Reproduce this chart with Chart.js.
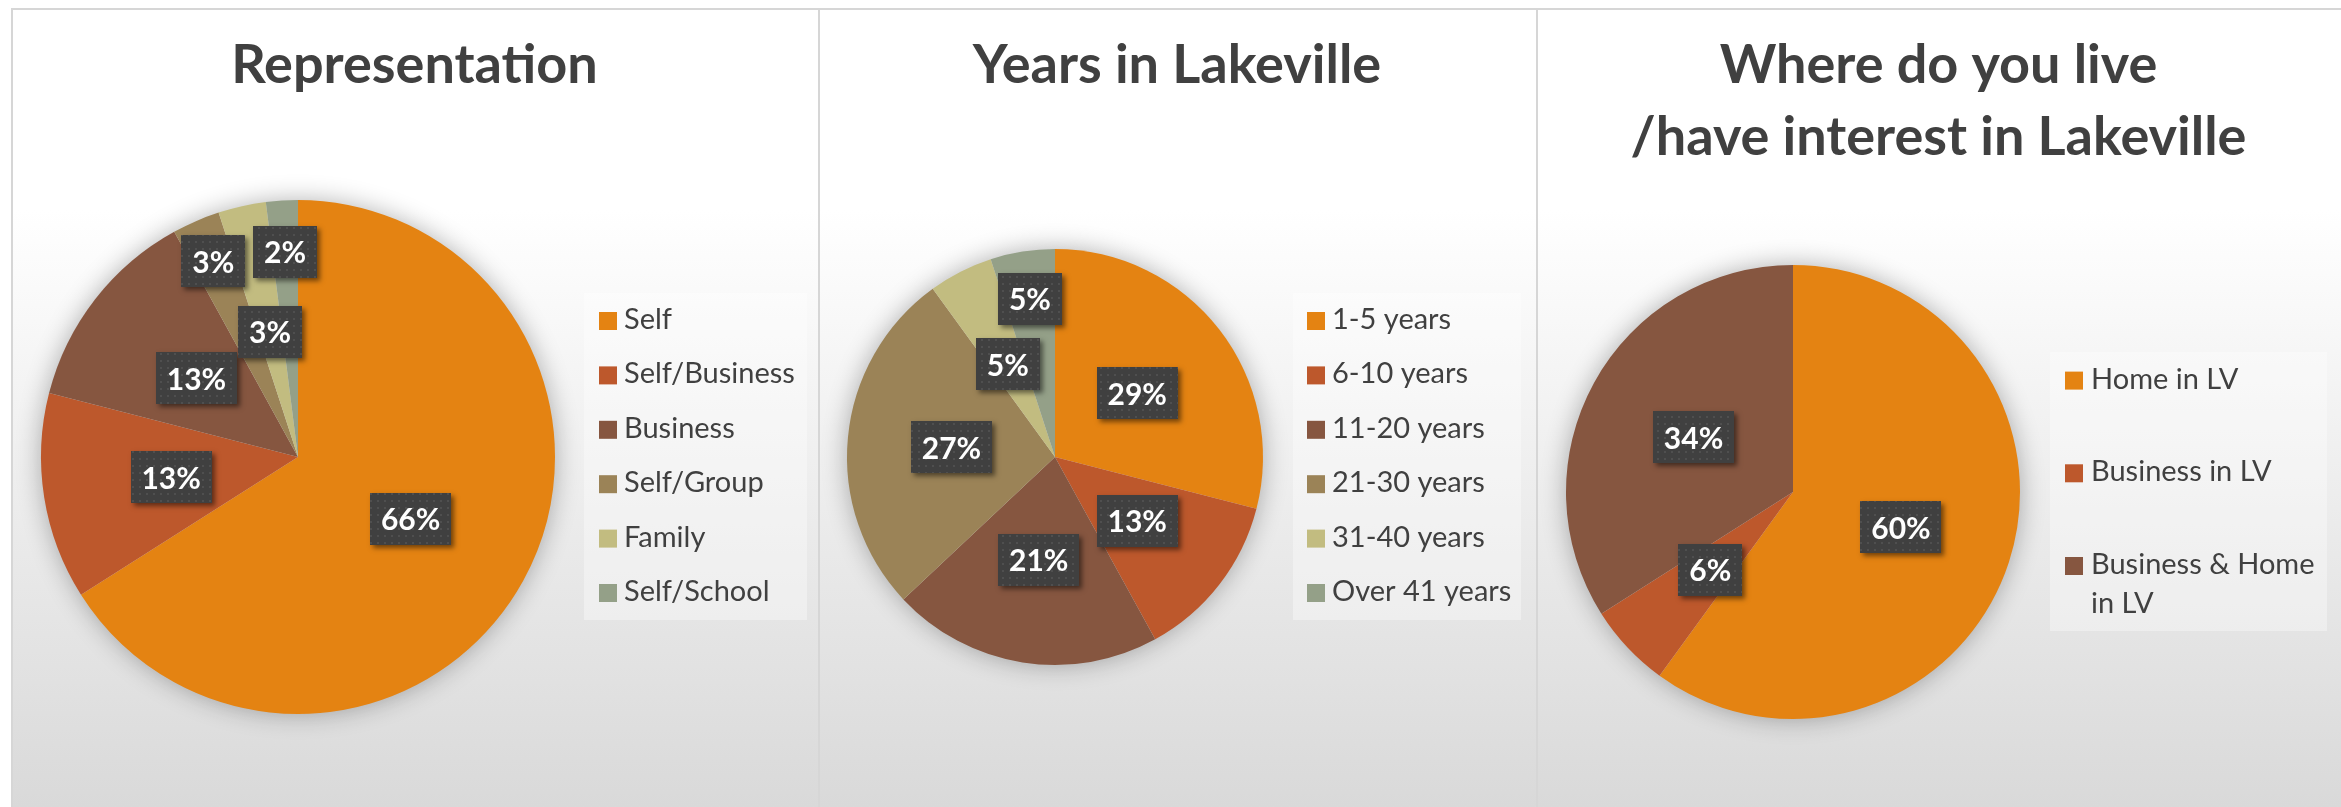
<!DOCTYPE html>
<html>
<head>
<meta charset="utf-8">
<title>Lakeville survey</title>
<script src="https://cdn.jsdelivr.net/npm/chart.js@4.4.1/dist/chart.umd.min.js"></script>
<style>
  html, body { margin: 0; padding: 0; background: #ffffff; }
  body { width: 2341px; height: 807px; position: relative; overflow: hidden; font-family: Lato, sans-serif; }
  .panel {
    position: absolute;
    box-sizing: border-box;
    border-top: 2px solid #d6d6d6;
    border-left: 2px solid #d6d6d6;
    background: linear-gradient(to bottom, #ffffff 0%, #ffffff 25%, #d9d9d9 100%);
  }
  canvas { position: absolute; }
</style>
</head>
<body>

<script>
// ---- data ----
const repLabels = ["Self", "Self/Business", "Business", "Self/Group", "Family", "Self/School"];
const repValues = [66, 13, 13, 3, 3, 2];

const yearsLabels = ["1-5 years", "6-10 years", "11-20 years", "21-30 years", "31-40 years", "Over 41 years"];
const yearsValues = [29, 13, 21, 27, 5, 5];

const liveLabels = ["Home in LV", "Business in LV", "Business & Home in LV"];
const liveValues = [60, 6, 34];

const sliceColors = ["#E48312", "#BD582C", "#865640", "#9B8357", "#C2BC80", "#94A088"];

// ---- layout (page pixels) ----
const panels = [
  { x: 11, y: 8, w: 807, h: 799 },
  { x: 818, y: 8, w: 718, h: 799 },
  { x: 1536, y: 8, w: 805, h: 799 }
];

const TEXT_COLOR = "#404040";

// dotted fill used by the dark data label boxes
let dotPattern = null;
function getDotPattern(ctx) {
  if (dotPattern) return dotPattern;
  const c = document.createElement("canvas");
  c.width = 7;
  c.height = 7;
  const g = c.getContext("2d");
  g.fillStyle = "#404040";
  g.fillRect(0, 0, 7, 7);
  g.fillStyle = "#4f4f4f";
  g.fillRect(2, 2, 2, 2);
  dotPattern = ctx.createPattern(c, "repeat");
  return dotPattern;
}

// Custom plugin: pie glow, dark % boxes, title and legend
const lakevillePlugin = {
  id: "lakeville",

  beforeDatasetsDraw(chart) {
    const arc = chart.getDatasetMeta(0).data[0];
    if (!arc) return;
    const ctx = chart.ctx;
    ctx.save();
    ctx.shadowColor = "rgba(0,0,0,0.32)";
    ctx.shadowBlur = 26;
    ctx.fillStyle = "#dddddd";
    ctx.beginPath();
    ctx.arc(arc.x, arc.y, arc.outerRadius - 1, 0, Math.PI * 2);
    ctx.fill();
    ctx.restore();
  },

  afterDatasetsDraw(chart, args, opts) {
    const ctx = chart.ctx;
    const meta = chart.getDatasetMeta(0);
    const values = chart.data.datasets[0].data;

    meta.data.forEach(function (arc, i) {
      const p = arc.getProps(["x", "y", "startAngle", "endAngle", "outerRadius"], true);
      const mid = (p.startAngle + p.endAngle) / 2;
      const f = opts.labelRadius ? opts.labelRadius[i] : 0.5;
      const cx = p.x + Math.cos(mid) * p.outerRadius * f;
      const cy = p.y + Math.sin(mid) * p.outerRadius * f;

      const text = Math.round(values[i]) + "%";
      ctx.save();
      ctx.font = "bold 30px Lato";
      const tw = ctx.measureText(text).width;
      const bw = Math.round(tw + 22);
      const bh = 52;
      const bx = Math.round(cx - bw / 2);
      const by = Math.round(cy - bh / 2);

      // box with soft drop shadow
      ctx.shadowColor = "rgba(0,0,0,0.5)";
      ctx.shadowBlur = 5;
      ctx.shadowOffsetX = 3;
      ctx.shadowOffsetY = 3;
      ctx.fillStyle = "#404040";
      ctx.fillRect(bx, by, bw, bh);
      ctx.shadowColor = "transparent";
      ctx.fillStyle = getDotPattern(ctx);
      ctx.fillRect(bx, by, bw, bh);

      ctx.fillStyle = "#ffffff";
      ctx.textAlign = "center";
      ctx.textBaseline = "alphabetic";
      ctx.fillText(text, cx, cy + 11.5);
      ctx.restore();
    });
  },

  afterDraw(chart, args, opts) {
    const ctx = chart.ctx;
    const ox = opts.panel.x;
    const oy = opts.panel.y;

    // title
    ctx.save();
    ctx.fillStyle = TEXT_COLOR;
    ctx.font = "bold 54px Lato";
    ctx.textAlign = "center";
    ctx.textBaseline = "alphabetic";
    opts.title.forEach(function (line, i) {
      ctx.fillText(line, opts.panel.w / 2, opts.titleBaseline - oy + i * 72);
    });
    ctx.restore();

    // legend
    const lg = opts.legend;
    ctx.save();
    ctx.fillStyle = "rgba(255,255,255,0.35)";
    ctx.fillRect(lg.box[0] - ox, lg.box[1] - oy, lg.box[2] - lg.box[0], lg.box[3] - lg.box[1]);

    ctx.font = "29px Lato";
    ctx.textAlign = "left";
    ctx.textBaseline = "alphabetic";
    const labels = chart.data.labels;
    const colors = chart.data.datasets[0].backgroundColor;
    labels.forEach(function (label, i) {
      const rowY = lg.firstRow + i * lg.rowStep - oy;
      const sx = lg.x - ox;
      ctx.fillStyle = colors[i];
      ctx.fillRect(sx, rowY - 9, 18, 18);

      // simple word wrap
      const words = label.split(" ");
      const lines = [];
      let cur = "";
      words.forEach(function (w) {
        const test = cur ? cur + " " + w : w;
        if (lg.maxWidth && ctx.measureText(test).width > lg.maxWidth && cur) {
          lines.push(cur);
          cur = w;
        } else {
          cur = test;
        }
      });
      lines.push(cur);

      ctx.fillStyle = TEXT_COLOR;
      lines.forEach(function (ln, k) {
        ctx.fillText(ln, sx + lg.textOffset, rowY + 8 + k * 38.6);
      });
    });
    ctx.restore();
  }
};

// Build one pie panel
function makePie(panel, cfg) {
  const div = document.createElement("div");
  div.className = "panel";
  div.style.left = panel.x + "px";
  div.style.top = panel.y + "px";
  div.style.width = panel.w + "px";
  div.style.height = panel.h + "px";
  document.body.appendChild(div);

  const canvas = document.createElement("canvas");
  canvas.width = panel.w;
  canvas.height = panel.h;
  canvas.style.left = panel.x + "px";
  canvas.style.top = panel.y + "px";
  canvas.style.width = panel.w + "px";
  canvas.style.height = panel.h + "px";
  document.body.appendChild(canvas);

  const lx = cfg.center[0] - panel.x;
  const ly = cfg.center[1] - panel.y;
  const r = cfg.radius;

  return new Chart(canvas.getContext("2d"), {
    type: "pie",
    data: {
      labels: cfg.labels,
      datasets: [
        {
          data: cfg.values,
          backgroundColor: sliceColors.slice(0, cfg.values.length),
          borderWidth: 0,
          hoverOffset: 0,
          radius: r
        }
      ]
    },
    options: {
      responsive: false,
      devicePixelRatio: 1,
      animation: false,
      events: [],
      layout: {
        padding: {
          left: lx - r,
          right: panel.w - lx - r,
          top: ly - r,
          bottom: panel.h - ly - r
        }
      },
      plugins: {
        legend: { display: false },
        tooltip: { enabled: false },
        lakeville: {
          panel: panel,
          title: cfg.title,
          titleBaseline: 83,
          labelRadius: cfg.labelRadius,
          legend: cfg.legend
        }
      }
    },
    plugins: [lakevillePlugin]
  });
}

document.fonts.load("bold 54px Lato").then(function () {
  return document.fonts.load("29px Lato");
}).finally(function () {
  makePie(panels[0], {
    labels: repLabels,
    values: repValues,
    center: [298, 457],
    radius: 257,
    title: ["Representation"],
    labelRadius: [0.5, 0.5, 0.5, 0.83, 0.5, 0.8],
    legend: { box: [584, 293, 807, 620], x: 599, textOffset: 25, firstRow: 321, rowStep: 54.4 }
  });

  makePie(panels[1], {
    labels: yearsLabels,
    values: yearsValues,
    center: [1055, 457],
    radius: 208,
    title: ["Years in Lakeville"],
    labelRadius: [0.5, 0.5, 0.5, 0.5, 0.5, 0.77],
    legend: { box: [1293, 293, 1521, 620], x: 1307, textOffset: 25, firstRow: 321, rowStep: 54.4 }
  });

  makePie(panels[2], {
    labels: liveLabels,
    values: liveValues,
    center: [1793, 492],
    radius: 227,
    title: ["Where do you live", "/have interest in Lakeville"],
    labelRadius: [0.5, 0.5, 0.5],
    legend: { box: [2050, 352, 2327, 631], x: 2065, textOffset: 26, firstRow: 380.6, rowStep: 92.7, maxWidth: 235 }
  });
});
</script>
</body>
</html>
